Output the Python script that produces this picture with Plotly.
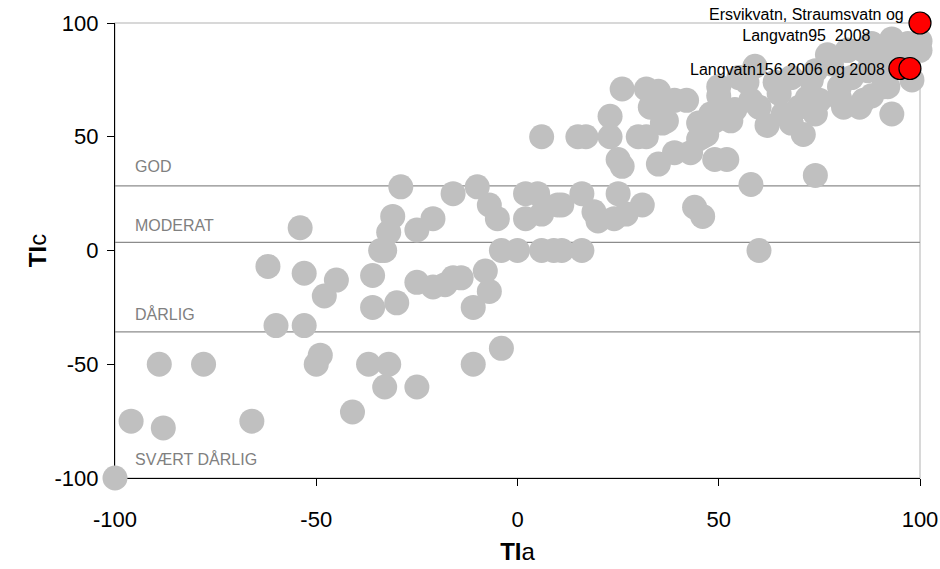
import plotly.graph_objects as go

# Gray points (TIa, TIc)
gray_x = [
    -100, -96, -88, -89, -78, -66, -62, -60, -54, -53, -53, -49, -50, -48, -45,
    -41, -37, -32, -33, -36, -36, -30, -34, -33, -32, -31, -29, -25, -21, -25,
    -25, -21, -18, -16, -14, -16, -10, -7, -5, -4, 0, -8, -7, -11, -11, -4,
    2, 5, 2, 6, 10, 11, 16, 19, 20, 24, 25, 27, 31, 6, 9, 11, 16,
    6, 15, 17, 23, 23, 25, 26, 26, 30, 32, 33, 35, 32, 36, 39, 35, 39, 42, 43,
    45, 46, 49, 52, 48, 50, 52, 44, 46, 58, 60, 74,
    34, 37, 45, 47, 49, 50, 53, 54, 57, 59, 60, 62, 66, 64, 55, 58, 65, 68,
    71, 70, 68, 73, 74, 72, 75, 74, 77, 78, 80, 81, 82, 85, 86, 88, 91, 93,
    83, 87, 91, 95, 98, 100, 100, 98, 82, 86, 88, 90, 93, 96, 97, 92, 80, 88
]
gray_y = [
    -100, -75, -78, -50, -50, -75, -7, -33, 10, -10, -33, -46, -50, -20, -13,
    -71, -50, -50, -60, -25, -11, -23, 0, 0, 8, 15, 28, 9, 14, -60,
    -14, -16, -15, -12, -12, 25, 28, 20, 14, 0, 0, -9, -18, -25, -50, -43,
    25, 25, 14, 16, 20, 20, 25, 17, 13, 14, 25, 16, 20, 0, 0, 0, 0,
    50, 50, 50, 59, 50, 40, 37, 71, 50, 50, 63, 70, 71, 56, 66, 38, 43, 66, 43,
    56, 50, 40, 40, 60, 72, 58, 19, 15, 29, 0, 33,
    63, 57, 49, 51, 57, 68, 57, 62, 74, 81, 63, 55, 60, 74, 76, 66, 69, 56,
    51, 63, 76, 75, 60, 67, 66, 79, 86, 82, 67, 63, 88, 63, 66, 68, 72, 60,
    76, 79, 81, 85, 87, 88, 92, 75, 88, 88, 91, 88, 93, 85, 91, 72, 72, 80
]

# Red highlighted points
red_x = [100, 95, 97.5]
red_y = [100, 80, 80]

# Axis ticks
tick_vals = [-100, -50, 0, 50, 100]
tick_text = ["-100", "-50", "0", "50", "100"]

# Class boundaries and labels
class_lines = [28.4, 3.6, -35.8]
class_names = ["GOD", "MODERAT", "DÅRLIG", "SVÆRT DÅRLIG"]
class_label_y = [37, 11, -28, -91.5]

fig = go.Figure()
fig.add_trace(go.Scatter(
    x=gray_x, y=gray_y, mode="markers",
    marker=dict(size=25, color="#c0c0c0", line=dict(width=0)),
    cliponaxis=False, showlegend=False, hoverinfo="x+y"))
fig.add_trace(go.Scatter(
    x=red_x, y=red_y, mode="markers",
    marker=dict(size=22, color="#ff0000", line=dict(width=1.2, color="#000000")),
    cliponaxis=False, showlegend=False, hoverinfo="x+y"))

shapes = [dict(type="rect", xref="paper", yref="paper", x0=0, x1=1, y0=0, y1=1,
               line=dict(color="#cccccc", width=1.5), layer="below")]
for v in class_lines:
    shapes.append(dict(type="line", xref="x", yref="y", x0=-100, x1=100, y0=v, y1=v,
                       line=dict(color="#8c8c8c", width=1.2), layer="below"))

annotations = []
for name, yv in zip(class_names, class_label_y):
    annotations.append(dict(x=-95.5, y=yv, xref="x", yref="y", text=name, showarrow=False,
                            xanchor="left", yanchor="middle",
                            font=dict(size=16, color="#808080", family="Liberation Sans")))
annotations.append(dict(x=71.7, y=99.2, xref="x", yref="y",
                        text="Ersvikvatn, Straumsvatn og<br>Langvatn95  2008",
                        showarrow=False, xanchor="center", yanchor="middle",
                        font=dict(size=16, color="#000000", family="Liberation Sans")))
annotations.append(dict(x=91.8, y=79.5, xref="x", yref="y",
                        text="Langvatn156 2006 og 2008",
                        showarrow=False, xanchor="right", yanchor="middle",
                        font=dict(size=16, color="#000000", family="Liberation Sans")))

axis_common = dict(
    range=[-100, 100], tickvals=tick_vals, ticktext=tick_text, ticks="outside", ticklen=7,
    tickcolor="#000000", showline=True, linecolor="#000000", linewidth=1.2,
    showgrid=False, zeroline=False, layer="below traces", automargin=False,
    tickfont=dict(size=22, color="#000000", family="Liberation Sans"),
)

fig.update_layout(
    width=940, height=569,
    margin=dict(l=115, r=20, t=23, b=91),
    paper_bgcolor="white", plot_bgcolor="white",
    xaxis=dict(**axis_common, ticklabelstandoff=14,
               title=dict(text="<b>TI</b>a", standoff=12,
                          font=dict(size=24, color="#000000", family="Liberation Sans"))),
    yaxis=dict(**axis_common, ticklabelstandoff=4,
               title=dict(text="<b>TI</b>c", standoff=1,
                          font=dict(size=24, color="#000000", family="Liberation Sans"))),
    shapes=shapes, annotations=annotations,
    font=dict(family="Liberation Sans"),
)

fig.write_html("out.html", config={"displayModeBar": False},
               post_script="document.body.style.margin='0';document.body.style.overflow='hidden';")
